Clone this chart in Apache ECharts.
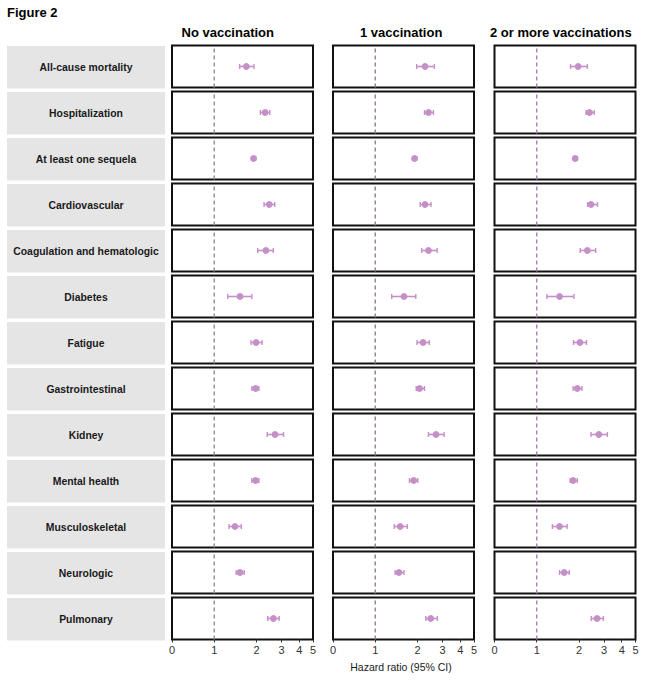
<!DOCTYPE html>
<html>
<head>
<meta charset="utf-8">
<script src="https://cdn.jsdelivr.net/npm/echarts@6/dist/echarts.min.js"></script>
<style>
html,body{margin:0;padding:0;background:#fff;}
#chart{width:657px;height:680px;}
</style>
</head>
<body>
<div id="chart"></div>
<script>
// ---- Data ----
const figureTitle = "Figure 2";
const columns = ["No vaccination", "1 vaccination", "2 or more vaccinations"];
const categories = [
  "All-cause mortality", "Hospitalization", "At least one sequela", "Cardiovascular",
  "Coagulation and hematologic", "Diabetes", "Fatigue", "Gastrointestinal", "Kidney",
  "Mental health", "Musculoskeletal", "Neurologic", "Pulmonary"
];
// No vaccination
const hrNone = [1.76, 2.30, 1.93, 2.46, 2.33, 1.61, 1.99, 1.98, 2.70, 1.98, 1.49, 1.61, 2.63];
const loNone = [1.60, 2.13, 1.89, 2.26, 2.04, 1.32, 1.87, 1.89, 2.38, 1.89, 1.35, 1.52, 2.40];
const hiNone = [1.94, 2.48, 1.98, 2.69, 2.63, 1.89, 2.19, 2.08, 3.10, 2.08, 1.64, 1.71, 2.89];
// 1 vaccination
const hrOne = [2.26, 2.39, 1.93, 2.26, 2.39, 1.68, 2.19, 2.07, 2.70, 1.91, 1.59, 1.56, 2.48];
const loOne = [1.98, 2.24, 1.89, 2.09, 2.14, 1.39, 1.99, 1.97, 2.39, 1.81, 1.45, 1.47, 2.29];
const hiOne = [2.63, 2.59, 1.98, 2.49, 2.75, 1.96, 2.42, 2.24, 3.08, 2.01, 1.76, 1.68, 2.76];
// 2 or more vaccinations
const hrTwo = [1.98, 2.37, 1.91, 2.43, 2.29, 1.54, 2.03, 1.96, 2.76, 1.86, 1.54, 1.65, 2.68];
const loTwo = [1.80, 2.24, 1.87, 2.30, 2.04, 1.24, 1.87, 1.86, 2.43, 1.79, 1.37, 1.54, 2.44];
const hiTwo = [2.29, 2.56, 1.96, 2.70, 2.62, 1.88, 2.26, 2.10, 3.17, 1.96, 1.72, 1.77, 2.97];
const tickValues = [0, 1, 2, 3, 4, 5];
const refValue = 1;
const axisTitle = "Hazard ratio (95% CI)";

// ---- Axis transform (linear to 2, logarithmic above) ----
const K = 1.46;
function T(x) { return x <= 2 ? x : 2 + K * Math.log(x / 2); }

const colData = [
  { hr: hrNone, lo: loNone, hi: hiNone },
  { hr: hrOne, lo: loOne, hi: hiOne },
  { hr: hrTwo, lo: loTwo, hi: hiTwo }
];

// ---- Layout ----
const FONT = "'Liberation Sans', Arial, sans-serif";
const colLeft = [172, 333, 494.5];
const panelW = 141;
const rowTop0 = 45.5, rowPitch = 46, rowH = 42;
const refColors = ['#8f8f8f', '#8f7f96', '#a583ad'];
const markColor = '#c58fc8';
const nRows = categories.length;

const grids = [], xAxes = [], yAxes = [], series = [], graphics = [];

columns.forEach((col, c) => {
  categories.forEach((cat, r) => {
    const gi = c * nRows + r;
    const last = r === nRows - 1;
    grids.push({
      left: colLeft[c], top: rowTop0 + rowPitch * r, width: panelW, height: rowH,
      show: true, borderColor: '#111', borderWidth: 2, backgroundColor: '#fff'
    });
    xAxes.push({
      type: 'value', gridIndex: gi, min: 0, max: T(5),
      splitLine: { show: false },
      axisLine: { show: false },
      axisTick: { show: last, customValues: tickValues.map(T), length: 3, inside: false,
        lineStyle: { color: '#333', width: 1 } },
      axisLabel: { show: last, customValues: tickValues.map(T), margin: 5,
        fontFamily: FONT, fontSize: 11, color: '#333',
        formatter: function (v) {
          let best = tickValues[0], bd = Infinity;
          tickValues.forEach(t => { const d = Math.abs(T(t) - v); if (d < bd) { bd = d; best = t; } });
          return String(best);
        } }
    });
    yAxes.push({ type: 'value', gridIndex: gi, min: 0, max: 1, show: false });
    series.push({
      type: 'line', xAxisIndex: gi, yAxisIndex: gi, silent: true,
      data: [[T(refValue), 0], [T(refValue), 1]], symbol: 'none',
      lineStyle: { color: refColors[c], width: 1.4, type: [4, 3] }, z: 2
    });
    const d = colData[c];
    series.push({
      type: 'custom', xAxisIndex: gi, yAxisIndex: gi, silent: true, z: 3,
      data: [[T(d.hr[r]), T(d.lo[r]), T(d.hi[r]), 0.5]],
      encode: { x: [0, 1, 2], y: 3 },
      renderItem: function (params, api) {
        const y = api.value(3);
        const p = api.coord([api.value(0), y]);
        const pl = api.coord([api.value(1), y]);
        const ph = api.coord([api.value(2), y]);
        const cap = 2.5;
        return {
          type: 'group',
          children: [
            { type: 'line', shape: { x1: pl[0], y1: p[1], x2: ph[0], y2: p[1] },
              style: { stroke: markColor, lineWidth: 1.6 } },
            { type: 'line', shape: { x1: pl[0], y1: p[1] - cap, x2: pl[0], y2: p[1] + cap },
              style: { stroke: markColor, lineWidth: 1.4 } },
            { type: 'line', shape: { x1: ph[0], y1: p[1] - cap, x2: ph[0], y2: p[1] + cap },
              style: { stroke: markColor, lineWidth: 1.4 } },
            { type: 'circle', shape: { cx: p[0], cy: p[1], r: 3.4 },
              style: { fill: markColor } }
          ]
        };
      }
    });
  });
});

// Row label boxes
categories.forEach((cat, r) => {
  const y0 = rowTop0 + rowPitch * r;
  graphics.push({ type: 'rect', left: 7, top: y0 + 0.5, shape: { width: 158, height: 42.5 },
    style: { fill: '#e5e5e5' }, silent: true });
  graphics.push({ type: 'text', x: 86, y: y0 + 21.5, silent: true,
    style: { text: cat, fontFamily: FONT, fontSize: 10.4, fontWeight: 'bold', fill: '#1a1a1a',
      textAlign: 'center', textVerticalAlign: 'middle' } });
});
// Column headers
const headerX = [181.5, 360, 490];
columns.forEach((col, c) => {
  graphics.push({ type: 'text', x: headerX[c], y: 32, silent: true,
    style: { text: col, fontFamily: FONT, fontSize: 13, fontWeight: 'bold', fill: '#000',
      textAlign: 'left', textVerticalAlign: 'middle' } });
});
// Figure title
graphics.push({ type: 'text', x: 7, y: 12, silent: true,
  style: { text: figureTitle, fontFamily: FONT, fontSize: 13, fontWeight: 'bold', fill: '#000',
    textAlign: 'left', textVerticalAlign: 'middle' } });
// Axis title
graphics.push({ type: 'text', x: 401, y: 667, silent: true,
  style: { text: axisTitle, fontFamily: FONT, fontSize: 10.5, fill: '#222',
    textAlign: 'center', textVerticalAlign: 'middle' } });

const chart = echarts.init(document.getElementById('chart'), null, { renderer: 'svg' });
chart.setOption({
  animation: false,
  backgroundColor: '#fff',
  grid: grids, xAxis: xAxes, yAxis: yAxes, series: series, graphic: graphics
});
</script>
</body>
</html>
